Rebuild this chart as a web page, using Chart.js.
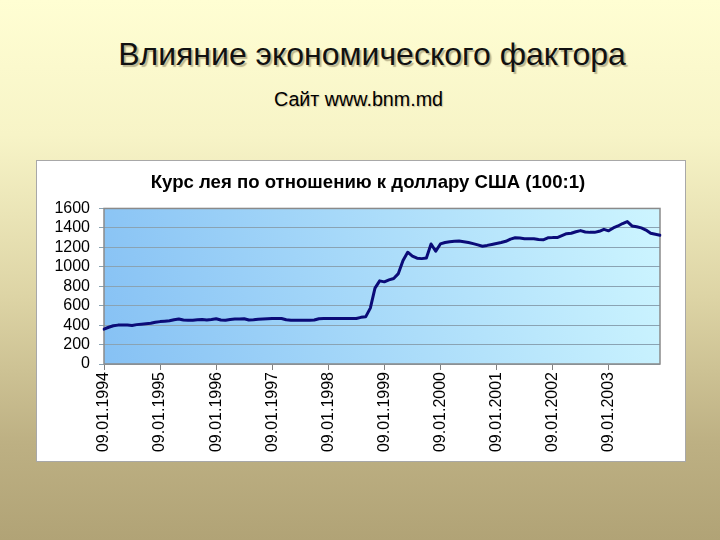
<!DOCTYPE html>
<html>
<head>
<meta charset="utf-8">
<script src="https://cdn.jsdelivr.net/npm/chart.js@4.4.0/dist/chart.umd.min.js"></script>
<style>
  html, body { margin: 0; padding: 0; }
  body {
    width: 720px; height: 540px; overflow: hidden; position: relative;
    font-family: Arial, "Liberation Sans", sans-serif;
    background: linear-gradient(to bottom, #fffed3 0%, #f7f4c7 25%, #ddd4a5 55%, #bdb083 82%, #b1a376 100%);
  }
  h1 {
    position: absolute; left: 0; width: 744px; top: 36px; margin: 0;
    text-align: center; font-weight: normal; font-size: 32px; color: #111;
    text-shadow: 2px 2px 1px #bdb68f;
  }
  .sub {
    position: absolute; left: 0; width: 717px; top: 88px;
    text-align: center; font-size: 19.7px; color: #000;
    text-shadow: 1px 1px 1px #c8c09a;
  }
  .box {
    position: absolute; left: 36px; top: 160px; width: 648px; height: 300px;
    background: #fff; border: 1px solid #a8a8a8;
  }
  .box canvas { position: absolute; left: 0; top: 0; }
</style>
</head>
<body>
<h1>Влияние экономического фактора</h1>
<div class="sub">Сайт www.bnm.md</div>
<div class="box"><canvas id="chart" width="648" height="300"></canvas></div>

<script>
// --- данные ---
var chartTitle = 'Курс лея по отношению к доллару США (100:1)';
var years = [1994, 1995, 1996, 1997, 1998, 1999, 2000, 2001, 2002, 2003];
var monthCodes = ['01','02','03','04','05','06','07','08','09','10','11','12'];
var yTicks = [0, 200, 400, 600, 800, 1000, 1200, 1400, 1600];

// курс лея на 9-е число каждого месяца (x100)
var rates = [
  359, 378, 393, 400, 402, 400, 396, 405, 410, 415, 420, 430,
  436, 440, 445, 455, 462, 452, 451, 451, 455, 458, 452, 458,
  466, 452, 451, 458, 462, 462, 466, 452, 455, 460, 462, 465,
  468, 468, 468, 455, 451, 451, 451, 451, 451, 452, 466, 468,
  468, 468, 468, 468, 468, 468, 468, 480, 485, 575, 780, 855,
  845, 865, 880, 930, 1065, 1150, 1110, 1088, 1084, 1090, 1235, 1160,
  1235, 1250, 1258, 1262, 1265, 1258, 1250, 1238, 1225, 1212, 1220, 1230,
  1240, 1250, 1262, 1285, 1298, 1295, 1289, 1289, 1289, 1280, 1278, 1298,
  1300, 1300, 1320, 1340, 1345, 1360, 1372, 1358, 1354, 1354, 1365, 1385,
  1370, 1400, 1420, 1445, 1465, 1420, 1412, 1400, 1378, 1345, 1335, 1325
];

var labels = [];
years.forEach(function(y) {
  monthCodes.forEach(function(m) { labels.push('09.' + m + '.' + y); });
});

// фон области построения + рамка
var plotBg = {
  id: 'plotBg',
  beforeDraw: function(chart) {
    var ctx = chart.ctx, a = chart.chartArea;
    var g = ctx.createLinearGradient(a.left, a.bottom, a.right, a.top);
    g.addColorStop(0, '#86c1f4');
    g.addColorStop(1, '#cdf5ff');
    ctx.save();
    ctx.fillStyle = g;
    ctx.fillRect(a.left, a.top, a.width, a.height);
    ctx.restore();
  },
  beforeDatasetsDraw: function(chart) {
    var ctx = chart.ctx, a = chart.chartArea;
    ctx.save();
    ctx.strokeStyle = '#8a8a8a';
    ctx.lineWidth = 1.5;
    ctx.strokeRect(a.left, a.top, a.width, a.height);
    ctx.restore();
  }
};

new Chart(document.getElementById('chart'), {
  type: 'line',
  data: {
    labels: labels,
    datasets: [{
      data: rates,
      borderColor: '#0b0b78',
      borderWidth: 3,
      pointRadius: 0,
      tension: 0,
      borderJoinStyle: 'round',
      borderCapStyle: 'round'
    }]
  },
  options: {
    responsive: false,
    animation: false,
    layout: { padding: { left: 14, right: 0, top: 0, bottom: 0 } },
    plugins: {
      legend: { display: false },
      tooltip: { enabled: false },
      title: {
        display: true, text: chartTitle, color: '#000',
        font: { family: 'Arial', size: 18.6, weight: 'bold', lineHeight: 1.1 },
        padding: { top: 12, bottom: 15 }
      }
    },
    scales: {
      x: {
        border: { display: false },
        grid: { drawOnChartArea: false, color: '#808080', tickLength: 6 },
        ticks: {
          autoSkip: false, minRotation: 90, maxRotation: 90,
          color: '#000', font: { family: 'Arial', size: 16 }, padding: 2,
          callback: function(v, i) { return i % 12 === 0 ? this.getLabelForValue(v) : null; }
        },
        afterFit: function(s) { s.height = 97; }
      },
      y: {
        min: 0, max: 1600,
        border: { display: false },
        grid: { color: '#8aa3b3', tickLength: 5 },
        ticks: {
          autoSkip: false,
          color: '#000', font: { family: 'Arial', size: 16 }, padding: 9,
          callback: function(v) { return String(v); }
        },
        afterBuildTicks: function(s) {
          s.ticks = yTicks.map(function(v) { return { value: v }; });
        },
        afterFit: function(s) { s.width = 53; }
      },
      // пустое поле справа от области построения
      yRight: {
        type: 'linear', position: 'right', min: 0, max: 1600,
        border: { display: false },
        grid: { display: false },
        ticks: { display: false },
        afterFit: function(s) { s.width = 25; }
      }
    }
  },
  plugins: [plotBg]
});
</script>
</body>
</html>
